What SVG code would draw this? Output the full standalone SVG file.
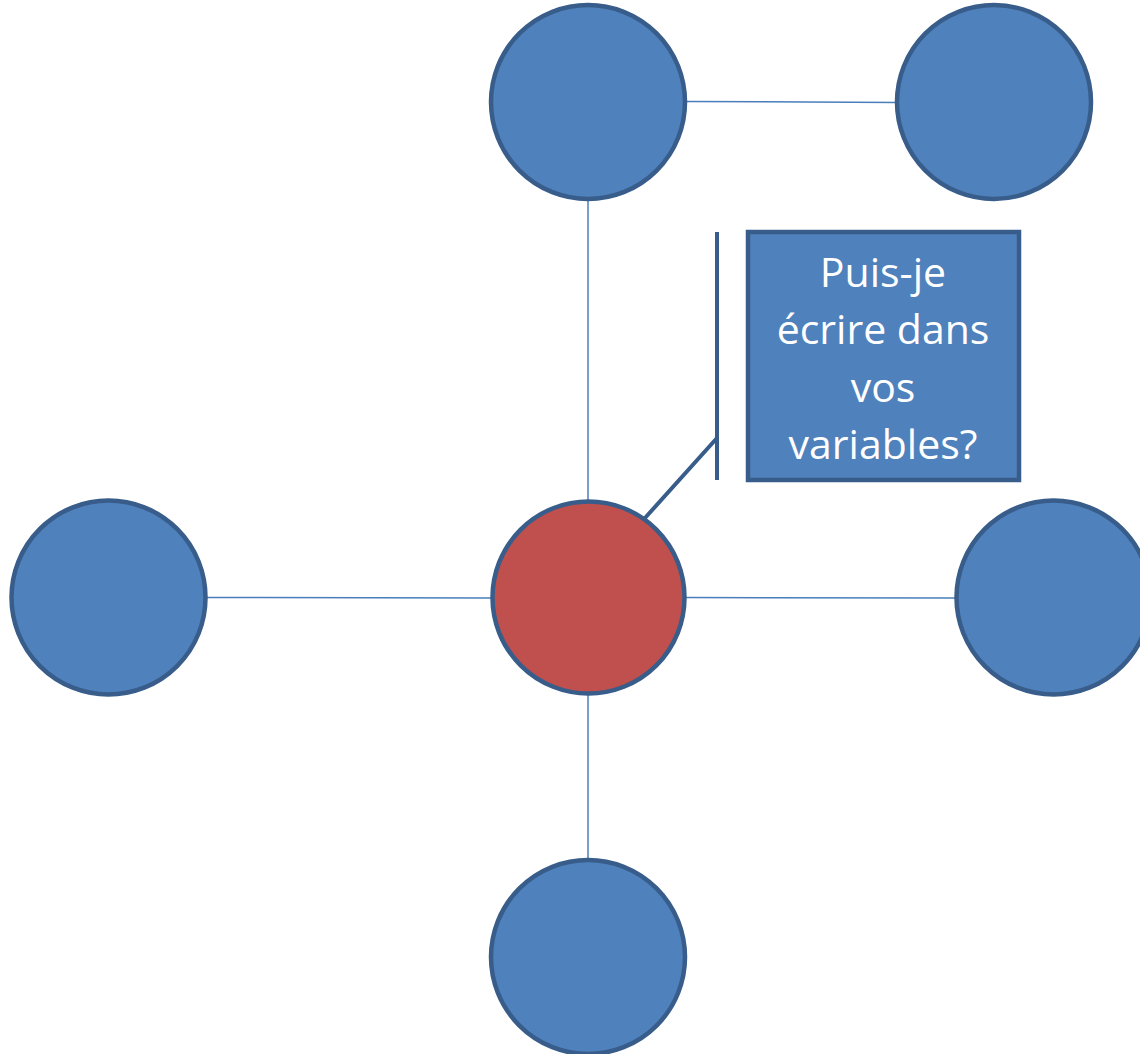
<svg xmlns="http://www.w3.org/2000/svg" width="1140" height="1054" viewBox="0 0 1140 1054">
<style>
.node{fill:#4F81BD;stroke:#385D8A;stroke-width:4.5}
.red{fill:#C0504D}
.edge{stroke:#4A7EBB;stroke-width:1.5;fill:none}
.callout{stroke:#385D8A;stroke-width:4;fill:none}
.lbl{font-family:"Open Sans","Liberation Sans",sans-serif;font-size:41px;fill:#FFFFFF;text-anchor:middle}
</style>
<rect width="1140" height="1054" fill="#FFFFFF"/>
<g id="connectors">
<line class="edge" x1="588" y1="200" x2="588" y2="500"/>
<line class="edge" x1="686" y1="101.5" x2="897" y2="102.5"/>
<line class="edge" x1="206" y1="597.5" x2="491" y2="598"/>
<line class="edge" x1="686" y1="597.5" x2="957" y2="598"/>
<line class="edge" x1="588" y1="695" x2="588" y2="860"/>
</g>
<g id="node-top"><ellipse class="node" cx="588" cy="102" rx="97" ry="97"/></g>
<g id="node-topright"><ellipse class="node" cx="994" cy="102" rx="97" ry="97"/></g>
<g id="node-left"><circle class="node" cx="108.5" cy="597.5" r="97"/></g>
<g id="node-right"><circle class="node" cx="1053.5" cy="597.5" r="97"/></g>
<g id="node-bottom"><circle class="node" cx="588" cy="957" r="97"/></g>
<g id="node-center"><circle class="node red" cx="588.5" cy="597.5" r="96"/></g>
<g id="callout">
<path class="callout" d="M717,232 V480 M717,438 L645,518"/>
<rect class="node" x="748" y="232" width="271" height="248"/>
<text class="lbl" x="883" y="287">Puis-je</text>
<text class="lbl" x="883" y="344">écrire dans</text>
<text class="lbl" x="883" y="402">vos</text>
<text class="lbl" x="883" y="459">variables?</text>
</g>
</svg>
